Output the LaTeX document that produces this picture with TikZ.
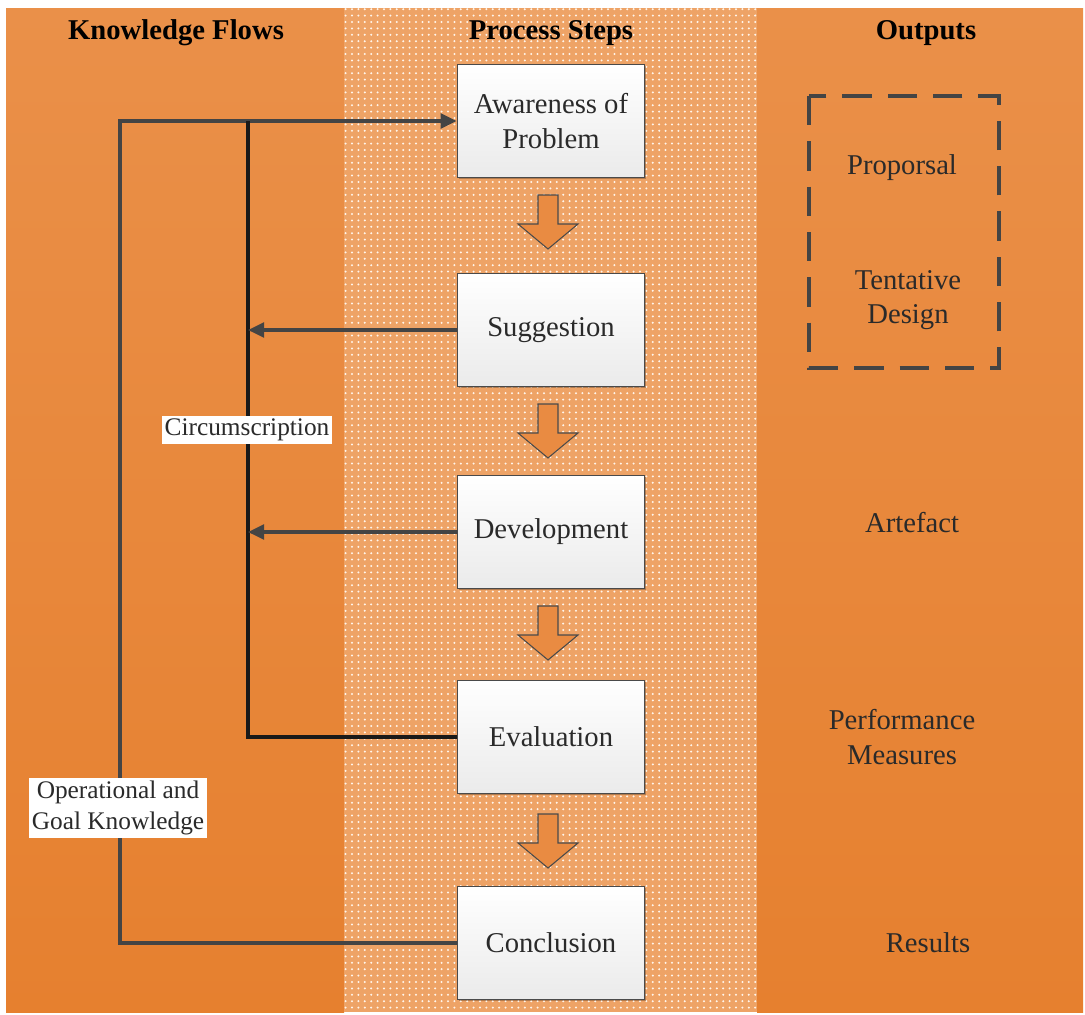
\documentclass[tikz,border=0pt]{standalone}
\usepackage{fontspec}
\setmainfont{Liberation Serif}
\usetikzlibrary{patterns.meta,shadows,arrows.meta}

\definecolor{band}{HTML}{E98B42}
\definecolor{bandtop}{HTML}{EA9049}
\definecolor{bandbot}{HTML}{E6802F}
\definecolor{midband}{HTML}{EEA366}
\definecolor{linegray}{HTML}{444444}
\definecolor{boxedge}{HTML}{4A4A4A}
\definecolor{txt}{HTML}{2A2A2A}

\tikzdeclarepattern{
  name=finedots,
  type=uncolored,
  bounding box={(-1.2pt,-1.2pt) and (1.2pt,1.2pt)},
  tile size={(4.8pt,4.8pt)},
  code={\fill (0pt,0pt) circle (0.85pt);}
}

\tikzset{
  header/.style={font=\fontsize{21.5}{24}\selectfont\bfseries, text=black},
  stepbox/.style={draw=boxedge, line width=1.2pt, top color=white, bottom color=black!8,
    minimum width=140.25pt, minimum height=84.75pt, align=center, text=txt,
    font=\fontsize{21.5}{26}\selectfont,
    drop shadow={shadow xshift=1.2pt, shadow yshift=-1.2pt, opacity=0.25, fill=black}},
  outtext/.style={align=center, text=txt, font=\fontsize{21.5}{26}\selectfont},
  flowlabel/.style={fill=white, inner sep=2pt, align=center, text=txt,
    font=\fontsize{19}{23}\selectfont},
  flow/.style={draw=linegray, line width=2.3pt},
  innerflow/.style={draw=black!90, line width=2.3pt},
  tipped/.style={-{Triangle[length=12pt,width=11pt]}},
  blockarrow/.style={fill=band, draw=boxedge, line width=0.8pt, line join=miter},
}

\newcommand{\stepdownarrow}[1]{%
  \draw[blockarrow] (538,#1) -- ++(20,0) -- ++(0,29) -- ++(20,0) -- ++(-30,25)
    -- ++(-30,-25) -- ++(20,0) -- cycle;}

\begin{document}
\begin{tikzpicture}[x=0.75pt, y=-0.75pt]
  \useasboundingbox (0,0) rectangle (1085,1014);
  \fill[white] (0,0) rectangle (1085,1014);

  % three columns
  \shade[top color=bandtop, bottom color=bandbot] (6,8) rectangle (344,1012);
  \shade[top color=bandtop, bottom color=bandbot] (757,8) rectangle (1083,1012);
  \fill[midband] (344,8) rectangle (757,1012);
  \fill[pattern={finedots}, pattern color=white!92!orange] (344,8) rectangle (757,1012);

  % column headers
  \node[header] (hk) at (176,33) {Knowledge Flows};
  \node[header] (hp) at (551,33) {Process Steps};
  \node[header] (ho) at (926,33) {Outputs};

  % process steps
  \node[stepbox] (aw) at (551,121) {Awareness of\\Problem};
  \node[stepbox] (sg) at (551,330) {Suggestion};
  \node[stepbox] (dv) at (551,532) {Development};
  \node[stepbox] (ev) at (551,737) {Evaluation};
  \node[stepbox] (cc) at (551,943) {Conclusion};

  % block arrows between steps
  \stepdownarrow{195}
  \stepdownarrow{404}
  \stepdownarrow{606}
  \stepdownarrow{814}

  % knowledge flow corners
  \coordinate (otop) at (120,121);
  \coordinate (obot) at (120,943);
  \coordinate (itop) at (248,121);
  \coordinate (ibot) at (248,737);

  % operational and goal knowledge loop
  \draw[flow, tipped, line join=miter] (cc.west) -- (obot) -- (otop) -- (aw.west);
  % circumscription loop
  \draw[innerflow, line join=miter] (ev.west) -- (ibot) -- (itop);
  \draw[flow, tipped] (sg.west) -- (sg.west -| itop);
  \draw[flow, tipped] (dv.west) -- (dv.west -| itop);

  % flow labels
  \node[flowlabel] (lc) at (247,430) {Circumscription};
  \node[flowlabel] (lo) at (118,808) {Operational and\\Goal Knowledge};

  % outputs
  \draw[draw=linegray, line width=2.3pt, dash pattern=on 22pt off 12pt]
    (809,96) rectangle (999,368);
  \node[outtext] (op) at (902,168) {Proporsal};
  \node[outtext] (ot) at (908,300) {Tentative\\Design};
  \node[outtext] (oa) at (912,523) {Artefact};
  \node[outtext] (om) at (902,737) {Performance\\Measures};
  \node[outtext] (orr) at (928,943) {Results};
\end{tikzpicture}
\end{document}
